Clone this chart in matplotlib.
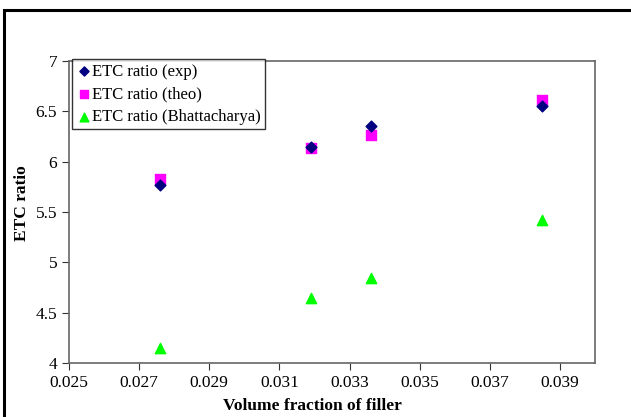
import matplotlib.pyplot as plt
from matplotlib.patches import Rectangle

plt.rcParams['font.family'] = ['Liberation Serif', 'DejaVu Serif']

# volume fraction of filler
vol_frac = [0.0276, 0.0319, 0.0336, 0.0385]
etc_exp = [5.77, 6.15, 6.35, 6.55]
etc_theo = [5.83, 6.14, 6.26, 6.61]
etc_bhat = [4.15, 4.65, 4.84, 5.42]

x_ticks = [0.025, 0.027, 0.029, 0.031, 0.033, 0.035, 0.037, 0.039]
y_ticks = [4, 4.5, 5, 5.5, 6, 6.5, 7]

fig = plt.figure(figsize=(6.31, 4.17), dpi=100)
ax = fig.add_axes([0.1094, 0.1295, 0.8336, 0.7242])

ax.scatter(vol_frac, etc_exp, marker='D', s=30, color='#000080', label='ETC ratio (exp)', zorder=3)
ax.scatter(vol_frac, etc_theo, marker='s', s=55, color='#FF00FF', label='ETC ratio (theo)', zorder=2)
ax.scatter(vol_frac, etc_bhat, marker='^', s=55, color='#00FF00', label='ETC ratio (Bhattacharya)', zorder=2)

ax.set_xlim(0.025, 0.040)
ax.set_ylim(4, 7)
ax.set_xticks(x_ticks)
ax.set_xticklabels([f"{t:.3f}" for t in x_ticks])
ax.set_yticks(y_ticks)
ax.set_yticklabels(['4', '4.5', '5', '5.5', '6', '6.5', '7'])
ax.tick_params(labelsize=12.5, length=5, direction='out', color='#333333')
for s in ax.spines.values():
    s.set_color('#666666')
    s.set_linewidth(1.2)

ax.set_xlabel('Volume fraction of filler', fontsize=12.5, fontweight='bold')
ax.set_ylabel('ETC ratio', fontsize=12.5, fontweight='bold')
ax.xaxis.set_label_coords(0.462, -0.115)
ax.yaxis.set_label_coords(-0.074, 0.53)

leg = ax.legend(loc='upper left', bbox_to_anchor=(0.005, 1.005), fontsize=12, frameon=True,
                fancybox=False, edgecolor='black', handletextpad=0.0, handlelength=1.0,
                borderpad=0.25, labelspacing=0.4, borderaxespad=0, markerscale=0.85)
leg.get_frame().set_linewidth(1.0)

# outer frame of the figure
fig.patches.append(Rectangle((0.0065, -0.05), 1.1, 1.025, transform=fig.transFigure,
                             fill=False, edgecolor='black', linewidth=2.2))

fig.savefig('out.png', dpi=100)
